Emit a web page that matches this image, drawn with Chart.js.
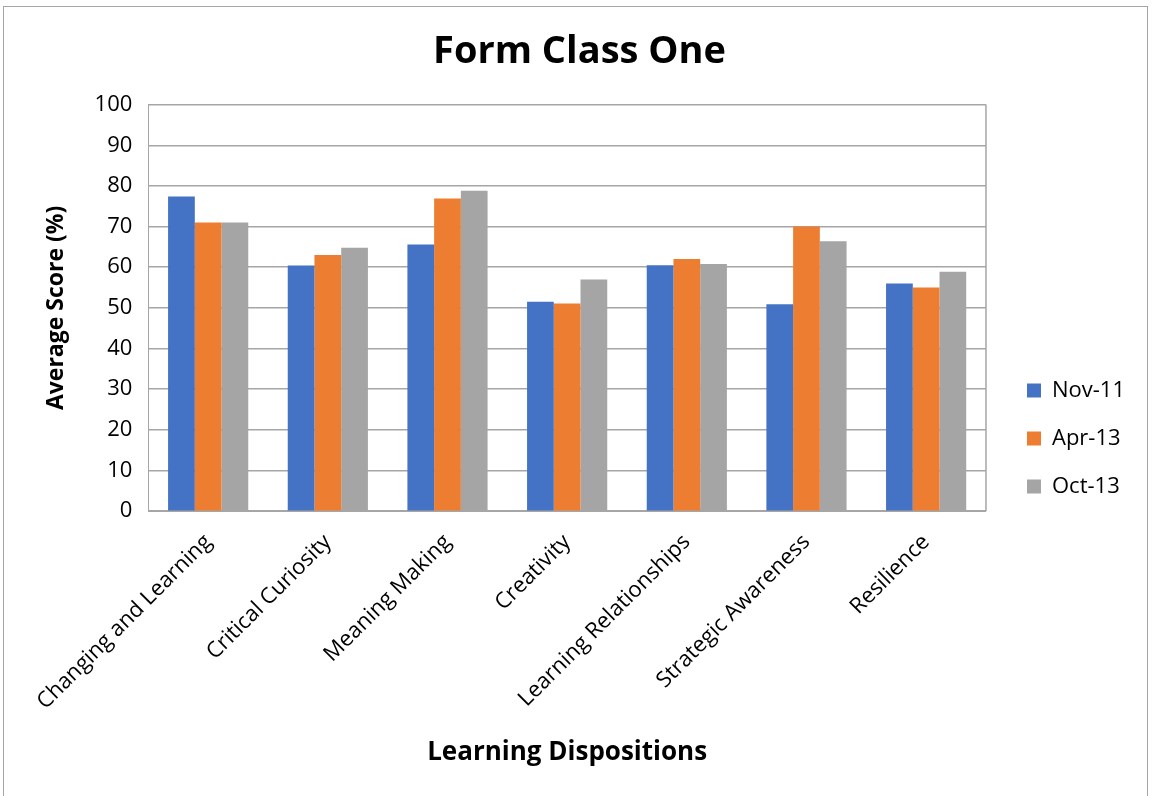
<!DOCTYPE html>
<html><head><meta charset="utf-8">
<script src="https://cdn.jsdelivr.net/npm/chart.js@4/dist/chart.umd.min.js"></script>
<style>
html,body{margin:0;padding:0;background:#fff;}
#frame{position:absolute;left:3px;top:6px;width:1145px;height:800px;border:1px solid #a6a6a6;box-sizing:border-box;}
#wrap{position:absolute;left:0;top:0;width:1155px;height:796px;}
</style></head><body>
<div id="frame"></div>
<div id="wrap"><canvas id="c" width="1155" height="796"></canvas></div>
<script>
const categories = ["Changing and Learning","Critical Curiosity","Meaning Making","Creativity","Learning Relationships","Strategic Awareness","Resilience"];
const seriesNames = ["Nov-11","Apr-13","Oct-13"];
const nov11 = [77.4, 60.4, 65.6, 51.5, 60.5, 50.9, 56.0];
const apr13 = [71.0, 63.0, 76.9, 51.1, 62.0, 70.0, 55.0];
const oct13 = [71.0, 64.8, 78.8, 57.0, 60.8, 66.4, 58.9];
const yTicks = [0,10,20,30,40,50,60,70,80,90,100];
const colors = ["#4472c4","#ed7d31","#a5a5a5"];

const fontFam = "'Open Sans', 'Liberation Sans', sans-serif";
new Chart(document.getElementById('c'), {
  type: 'bar',
  data: {
    labels: categories,
    datasets: [nov11, apr13, oct13].map((d,i)=>({
      label: seriesNames[i], data: d, backgroundColor: colors[i],
      borderWidth: 0,
      categoryPercentage: 0.67, barPercentage: 1.0
    }))
  },
  options: {
    responsive: false, animation: false,
    layout: { padding: { left: 39, right: 35, top: 11, bottom: 24 } },
    plugins: {
      title: { display: true, text: 'Form Class One', color: '#000',
        font: { family: fontFam, size: 38, weight: 'bold' },
        padding: { top: 18, bottom: 30 } },
      legend: { position: 'right', align: 'center',
        labels: { color: '#000', boxWidth: 14, boxHeight: 14, padding: 26,
          font: { family: fontFam, size: 22 } } },
      tooltip: { enabled: false }
    },
    scales: {
      x: {
        grid: { display: false, drawTicks: false },
        border: { color: '#a6a6a6' },
        ticks: { color: '#000', minRotation: 45, maxRotation: 45, padding: 18,
          font: { family: fontFam, size: 22 } },
        title: { display: true, text: 'Learning Dispositions', color: '#000',
          font: { family: fontFam, size: 26, weight: 'bold' }, padding: { top: 4 } }
      },
      y: {
        min: 0, max: 100,
        afterBuildTicks: ax => { ax.ticks = yTicks.map(v => ({ value: v })); },
        grid: { color: '#a6a6a6', drawTicks: false, lineWidth: 1.5 },
        border: { color: '#a6a6a6', display: true },
        ticks: { color: '#000', padding: 16, font: { family: fontFam, size: 22 } },
        title: { display: true, text: 'Average Score (%)', color: '#000',
          font: { family: fontFam, size: 23, weight: 'bold' }, padding: { bottom: 8 } }
      }
    }
  },
  plugins: [{
    id: 'legendShift',
    afterLayout(chart) {
      const lg = chart.legend;
      if (lg) { lg.top += 47; lg.bottom += 47; lg.left += 15; lg.right += 15; }
    }
  },{
    id: 'plotBorder',
    afterDraw(chart) {
      const a = chart.chartArea, ctx = chart.ctx;
      ctx.save(); ctx.strokeStyle = '#a6a6a6'; ctx.lineWidth = 1.5;
      ctx.beginPath(); ctx.moveTo(a.right, a.top); ctx.lineTo(a.right, a.bottom); ctx.stroke();
      ctx.restore();
    }
  }]
});
</script>
</body></html>
